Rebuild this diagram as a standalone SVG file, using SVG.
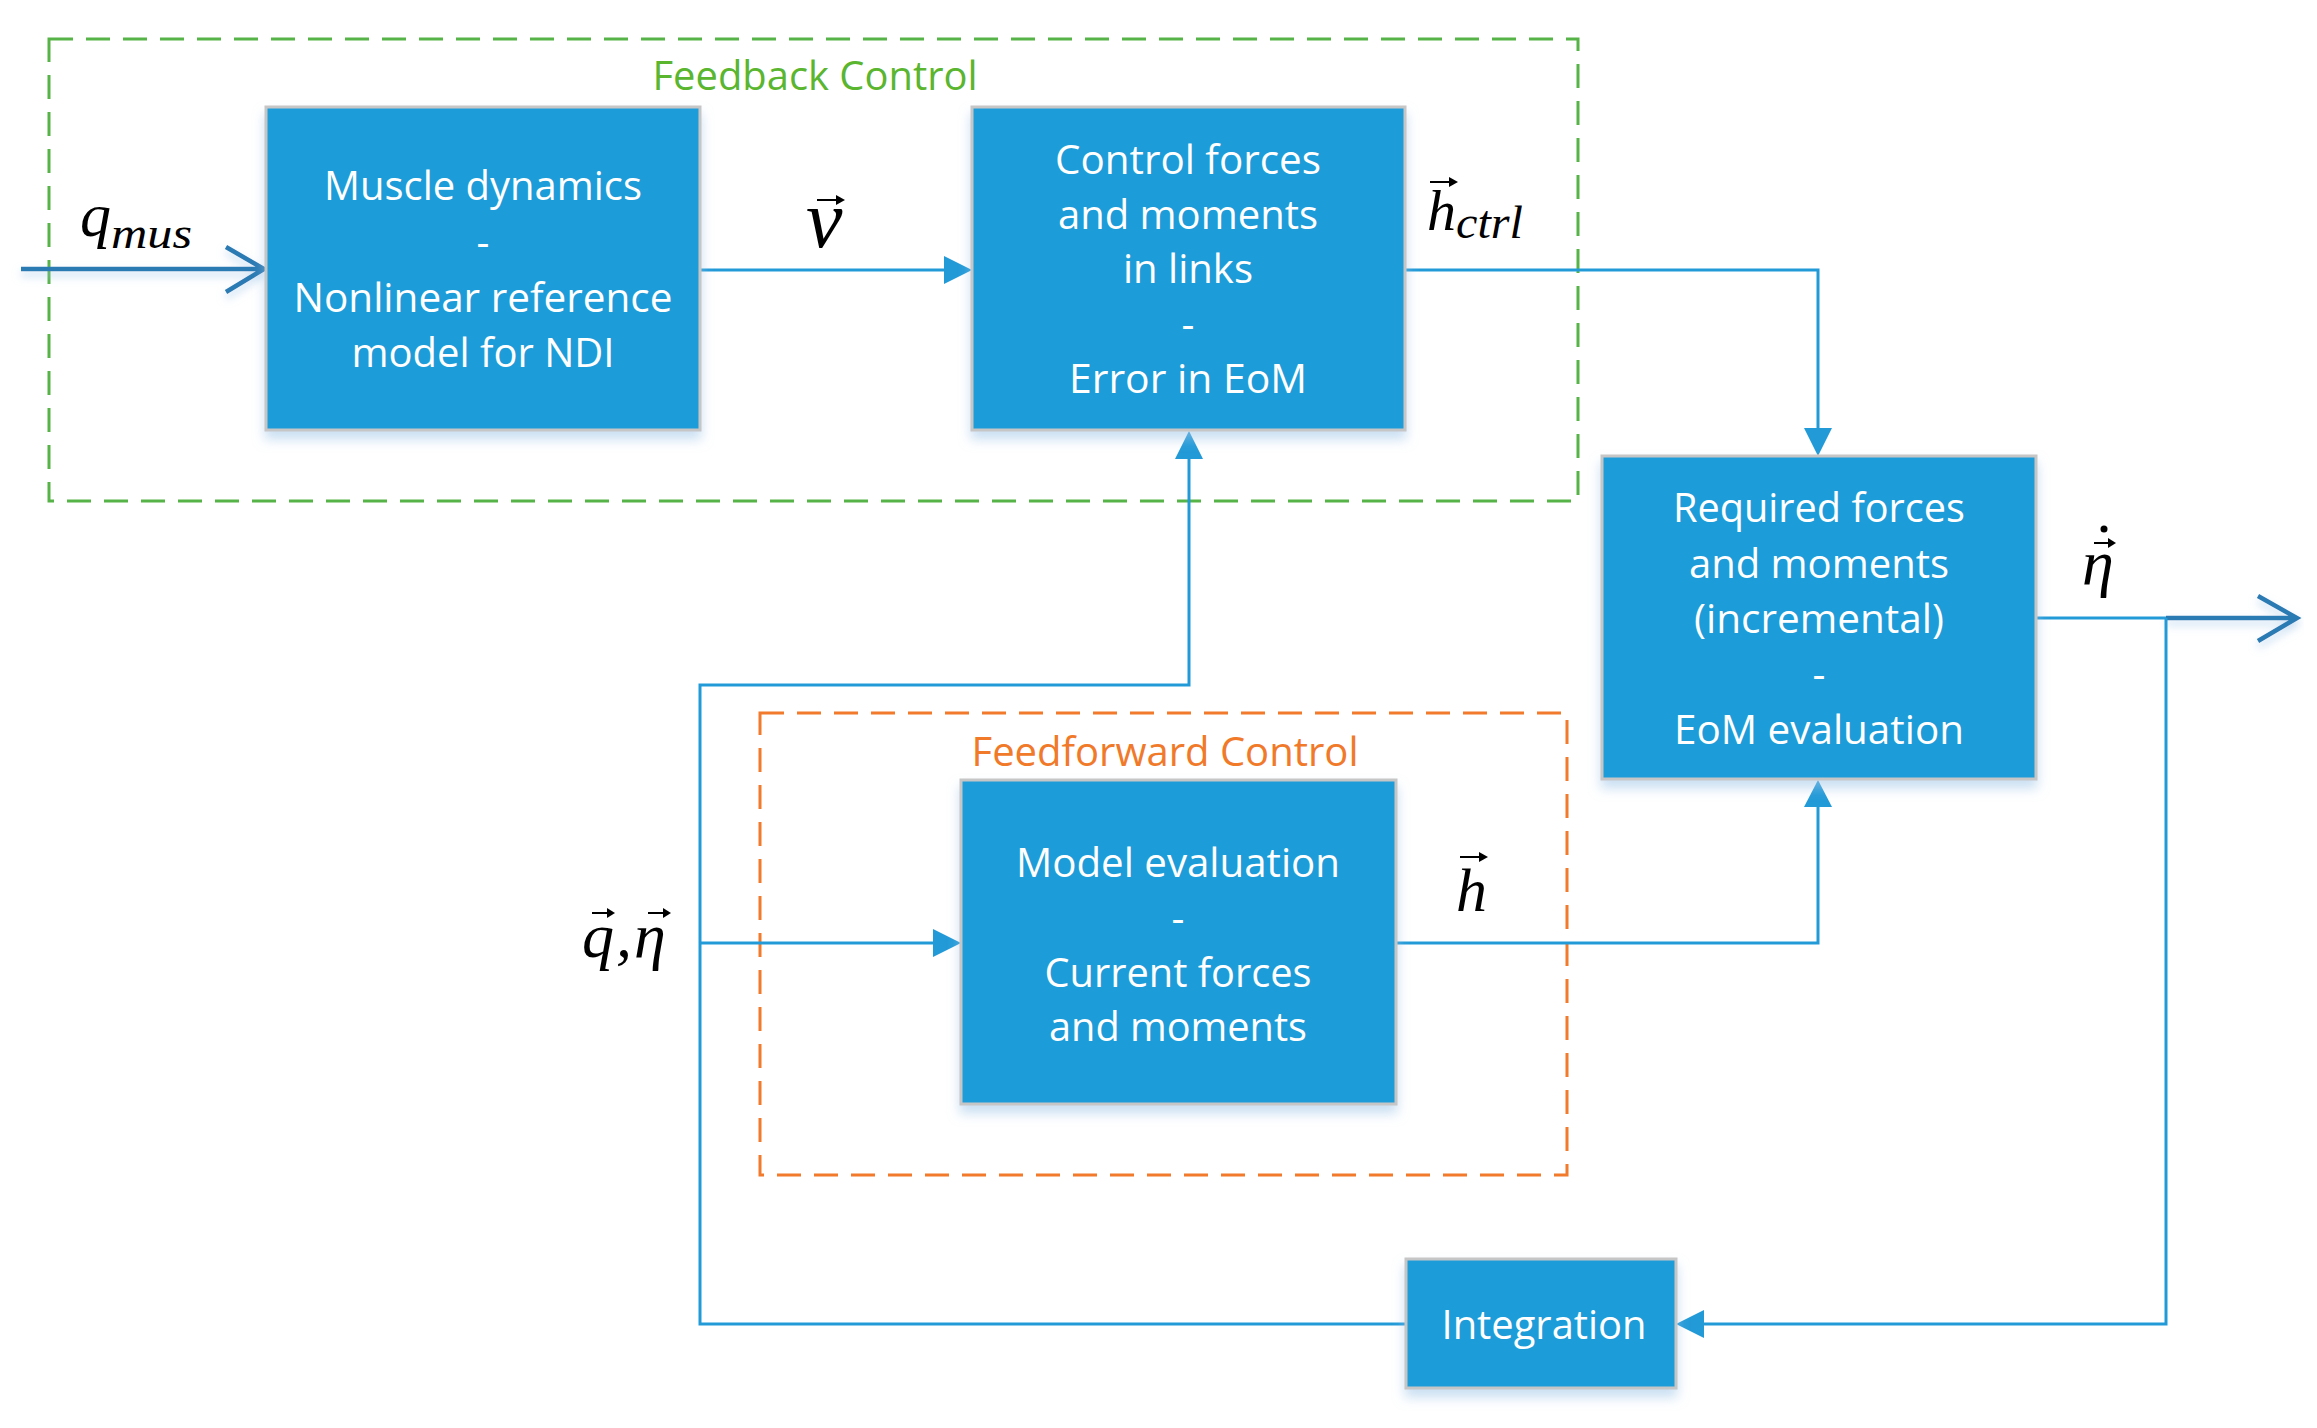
<svg xmlns="http://www.w3.org/2000/svg" width="2317" height="1428" viewBox="0 0 2317 1428">
<style>
.box{fill:#1e9cd8;stroke:#c6c6c6;stroke-width:3;filter:url(#sh)}
.bt{font-family:"Open Sans","Liberation Sans",sans-serif;font-size:40px;fill:#ffffff;text-anchor:middle}
.grp{fill:none;stroke-width:3;stroke-dasharray:24 13}
.conn{fill:none;stroke:#229ad7;stroke-width:3}
.head{fill:#229ad7}
.io{fill:none;stroke:#2b7ab3;stroke-width:4.5;filter:url(#lsh)}
.m{font-family:"Liberation Serif","Times New Roman",serif;font-style:italic;fill:#000000}
.vec{fill:none;stroke:#000000;stroke-width:2}
.vh{fill:#000000}
</style>
<defs>
<filter id="sh" x="-10%" y="-10%" width="125%" height="135%">
<feDropShadow dx="0" dy="8" stdDeviation="6" flood-color="#9ec5e8" flood-opacity="0.55"/>
</filter>
<filter id="lsh" x="-5%" y="-100%" width="110%" height="400%">
<feDropShadow dx="0" dy="5" stdDeviation="4" flood-color="#9ec5e8" flood-opacity="0.6"/>
</filter>
</defs>
<rect width="2317" height="1428" fill="#ffffff"/>

<g id="feedback-group">
<rect class="grp" x="49" y="39" width="1529" height="462" stroke="#56b347"/>
<text x="815" y="90" font-family="'Open Sans','Liberation Sans',sans-serif" font-size="40" fill="#5ab52f" text-anchor="middle" textLength="325" lengthAdjust="spacingAndGlyphs">Feedback Control</text>
</g>

<g id="feedforward-group">
<rect class="grp" x="760" y="713" width="807" height="462" stroke="#f27a2c"/>
<text x="1165" y="766" font-family="'Open Sans','Liberation Sans',sans-serif" font-size="40" fill="#f07a2a" text-anchor="middle" textLength="387" lengthAdjust="spacingAndGlyphs">Feedforward Control</text>
</g>

<g id="connectors">
<!-- input q_mus -->
<path class="io" d="M21,269 H263 M226,247 L264,269 L226,292"/>
<!-- muscle -> control -->
<path class="conn" d="M700,270 H946"/>
<polygon class="head" points="944,256 972,270 944,284"/>
<!-- control -> required -->
<path class="conn" d="M1405,270 H1818 V430"/>
<polygon class="head" points="1804,428 1832,428 1818,456"/>
<!-- feedforward -> required -->
<path class="conn" d="M1396,943 H1818 V805"/>
<polygon class="head" points="1804,807 1832,807 1818,780"/>
<!-- output -->
<path class="conn" d="M2036,618 H2166"/>
<path class="io" d="M2166,618 H2296 M2258,596 L2297,618 L2258,641"/>
<!-- feedback to integration -->
<path class="conn" d="M2166,618 V1324 H1702"/>
<polygon class="head" points="1704,1310 1676,1324 1704,1338"/>
<!-- integration -> loop -> control -->
<path class="conn" d="M1406,1324 H700 V685 H1189 V457"/>
<polygon class="head" points="1175,459 1203,459 1189,431"/>
<!-- q, eta -> model evaluation -->
<path class="conn" d="M700,943 H935"/>
<polygon class="head" points="933,929 961,943 933,957"/>
</g>

<g id="node-muscle">
<rect class="box" x="266" y="107" width="434" height="323"/>
<text class="bt" x="483" y="200" textLength="318" lengthAdjust="spacingAndGlyphs">Muscle dynamics</text>
<text class="bt" x="483" y="256">-</text>
<text class="bt" x="483" y="312" textLength="379" lengthAdjust="spacingAndGlyphs">Nonlinear reference</text>
<text class="bt" x="483" y="367" textLength="263" lengthAdjust="spacingAndGlyphs">model for NDI</text>
</g>

<g id="node-control">
<rect class="box" x="972" y="107" width="433" height="323"/>
<text class="bt" x="1188" y="174" textLength="266" lengthAdjust="spacingAndGlyphs">Control forces</text>
<text class="bt" x="1188" y="229" textLength="260" lengthAdjust="spacingAndGlyphs">and moments</text>
<text class="bt" x="1188" y="283" textLength="130" lengthAdjust="spacingAndGlyphs">in links</text>
<text class="bt" x="1188" y="338">-</text>
<text class="bt" x="1188" y="393" textLength="238" lengthAdjust="spacingAndGlyphs">Error in EoM</text>
</g>

<g id="node-required">
<rect class="box" x="1602" y="456" width="434" height="323"/>
<text class="bt" x="1819" y="522" textLength="292" lengthAdjust="spacingAndGlyphs">Required forces</text>
<text class="bt" x="1819" y="578" textLength="260" lengthAdjust="spacingAndGlyphs">and moments</text>
<text class="bt" x="1819" y="633" textLength="250" lengthAdjust="spacingAndGlyphs">(incremental)</text>
<text class="bt" x="1819" y="688">-</text>
<text class="bt" x="1819" y="744" textLength="290" lengthAdjust="spacingAndGlyphs">EoM evaluation</text>
</g>

<g id="node-model">
<rect class="box" x="961" y="780" width="435" height="324"/>
<text class="bt" x="1178" y="877" textLength="324" lengthAdjust="spacingAndGlyphs">Model evaluation</text>
<text class="bt" x="1178" y="932">-</text>
<text class="bt" x="1178" y="987" textLength="267" lengthAdjust="spacingAndGlyphs">Current forces</text>
<text class="bt" x="1178" y="1041" textLength="258" lengthAdjust="spacingAndGlyphs">and moments</text>
</g>

<g id="node-integration">
<rect class="box" x="1406" y="1259" width="270" height="129"/>
<text class="bt" x="1544" y="1339" textLength="205" lengthAdjust="spacingAndGlyphs">Integration</text>
</g>

<g id="labels">
<!-- q_mus -->
<text class="m" x="80" y="236" font-size="62">q</text>
<text class="m" x="111" y="248" font-size="44" textLength="81" lengthAdjust="spacingAndGlyphs">mus</text>
<!-- vec v -->
<text class="m" x="806" y="247" font-size="82">v</text>
<path class="vec" d="M817,200 H840"/>
<polygon class="vh" points="836,195 845,200 836,205"/>
<!-- vec h_ctrl -->
<text class="m" x="1427" y="230" font-size="58">h</text>
<text class="m" x="1456" y="238" font-size="47" textLength="67" lengthAdjust="spacingAndGlyphs">ctrl</text>
<path class="vec" d="M1430,182 H1453"/>
<polygon class="vh" points="1449,177 1458,182 1449,187"/>
<!-- vec h -->
<text class="m" x="1456" y="911" font-size="62">h</text>
<path class="vec" d="M1460,857 H1483"/>
<polygon class="vh" points="1479,852 1488,857 1479,862"/>
<!-- vec q, vec eta -->
<text class="m" x="582" y="957" font-size="64">q</text>
<text class="m" x="616" y="957" font-size="64">,</text>
<text class="m" x="634" y="957" font-size="64">η</text>
<path class="vec" d="M592,913 H611"/>
<polygon class="vh" points="607,908 615,913 607,918"/>
<path class="vec" d="M648,913 H667"/>
<polygon class="vh" points="663,908 671,913 663,918"/>
<!-- dot vec eta -->
<text class="m" x="2082" y="584" font-size="64">η</text>
<path class="vec" d="M2094,543 H2112"/>
<polygon class="vh" points="2108,538 2116,543 2108,548"/>
<circle cx="2104" cy="529" r="3.5" fill="#000000"/>
</g>
</svg>
